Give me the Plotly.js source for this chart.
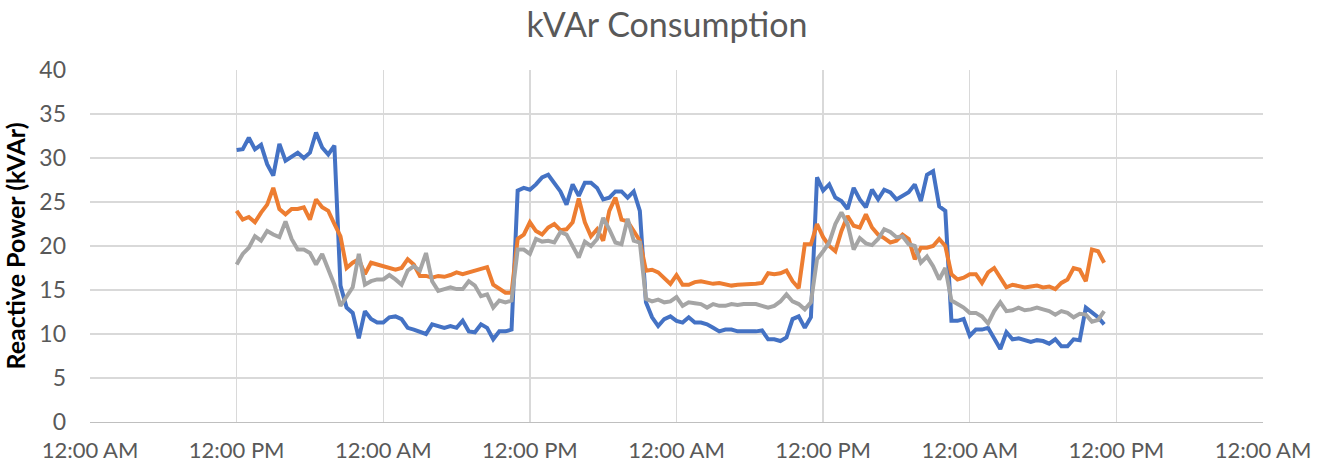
<!DOCTYPE html>
<html>
<head>
<meta charset="utf-8">
<script src="https://cdn.plot.ly/plotly-3.0.1.min.js"></script>
<style>html,body{margin:0;padding:0;background:#fff;}#chart{width:1319px;height:464px;}</style>
</head>
<body>
<div id="chart"></div>
<script>
// Hours elapsed since the first midnight shown on the axis (30-minute readings)
const hours = [
  12,12.5,13,13.5,14,14.5,15,15.5,16,16.5,17,17.5,18,18.5,19,19.5,20,20.5,21,21.5,22,22.5,23,23.5,
  24,24.5,25,25.5,26,26.5,27,27.5,28,28.5,29,29.5,30,30.5,31,31.5,32,32.5,33,33.5,34,34.5,35,35.5,
  36,36.5,37,37.5,38,38.5,39,39.5,40,40.5,41,41.5,42,42.5,43,43.5,44,44.5,45,45.5,46,46.5,47,47.5,
  48,48.5,49,49.5,50,50.5,51,51.5,52,52.5,53,53.5,54,54.5,55,55.5,56,56.5,57,57.5,58,58.5,59,59.5,
  60,60.5,61,61.5,62,62.5,63,63.5,64,64.5,65,65.5,66,66.5,67,67.5,68,68.5,69,69.5,70,70.5,71,71.5,
  72,72.5,73,73.5,74,74.5,75,75.5,76,76.5,77,77.5,78,78.5,79,79.5,80,80.5,81,81.5,82,82.5,83
];

const seriesBlue = [
  30.9,31.0,32.3,31.0,31.5,29.3,28.0,31.6,29.7,30.2,30.6,30.0,30.6,32.9,31.2,30.4,31.4,15.5,13.0,12.4,9.5,12.6,11.7,11.3,
  11.3,11.9,12.0,11.7,10.7,10.5,10.3,10.0,11.1,10.9,10.7,10.9,10.7,11.5,10.3,10.2,11.1,10.7,9.4,10.3,10.3,10.5,26.3,26.6,
  26.4,27.0,27.8,28.1,27.2,26.2,24.7,27.0,25.7,27.2,27.2,26.6,25.3,25.5,26.2,26.2,25.5,26.2,24.0,13.6,11.9,10.9,11.7,12.0,
  11.5,11.3,11.9,11.3,11.3,11.1,10.7,10.3,10.5,10.5,10.3,10.3,10.2,10.3,10.4,9.4,9.4,9.2,9.6,11.7,12.0,10.7,11.9,27.8,
  26.3,27.0,25.5,25.1,24.2,26.6,25.3,24.4,26.4,25.3,26.4,26.1,25.3,25.7,26.1,27.0,25.1,28.1,28.5,24.5,24.0,11.5,11.5,11.7,
  9.8,10.5,10.5,10.7,9.6,8.3,10.2,9.4,9.5,9.3,9.1,9.3,9.2,8.9,9.4,8.6,8.6,9.4,9.3,13.0,12.4,11.9,11.1
];

const seriesOrange = [
  24.0,23.0,23.3,22.7,23.8,24.7,26.6,24.2,23.6,24.2,24.2,24.4,23.0,25.3,24.4,24.0,22.5,21.1,17.5,18.1,18.5,16.8,18.1,17.9,
  17.8,17.5,17.3,17.5,18.5,17.9,16.6,16.6,16.4,16.6,16.5,16.7,17.0,16.8,17.0,17.2,17.3,17.6,15.6,15.1,14.7,14.7,20.8,21.3,
  22.7,21.7,21.3,22.1,22.5,21.8,21.9,22.7,25.4,22.7,21.1,21.9,20.6,24.0,25.5,23.0,22.8,21.7,20.6,17.2,17.3,17.0,16.4,15.7,
  16.7,15.6,15.6,15.9,16.0,15.8,15.7,15.8,15.6,15.5,15.6,15.6,15.6,15.7,15.8,16.9,16.8,16.9,17.2,16.0,15.2,20.2,20.2,22.5,
  21.0,20.0,19.4,21.7,23.4,22.3,22.1,23.6,22.1,21.3,20.9,20.4,20.6,21.3,20.8,18.5,19.8,19.8,20.0,20.8,20.0,16.8,16.2,16.4,
  16.8,16.8,15.8,17.0,17.5,16.4,15.3,15.6,15.5,15.3,15.4,15.5,15.3,15.4,15.1,15.8,16.2,17.5,17.3,16.0,19.6,19.4,18.1
];

const seriesGray = [
  17.9,19.1,19.8,21.1,20.6,21.7,21.3,21.0,22.8,20.8,19.6,19.6,19.2,17.9,19.1,17.2,15.6,13.2,14.3,15.3,19.1,15.6,16.0,16.2,
  16.2,16.7,16.2,15.6,17.2,17.7,17.2,19.2,16.0,14.9,15.1,15.3,15.1,15.1,16.0,15.5,14.3,14.5,13.0,13.8,13.6,13.8,19.6,19.6,
  19.1,20.8,20.5,20.6,20.4,21.6,21.3,20.0,18.7,20.5,20.0,20.8,23.2,21.9,20.4,20.2,23.1,20.6,20.4,14.0,13.7,13.9,13.6,13.7,
  14.2,13.2,13.6,13.5,13.4,13.0,13.4,13.2,13.2,13.4,13.3,13.4,13.4,13.4,13.2,13.0,13.2,13.7,14.5,13.7,13.4,12.8,13.6,18.5,
  19.4,20.4,22.5,23.8,22.5,19.6,20.9,20.3,20.1,20.8,21.9,21.6,21.0,21.1,20.2,20.0,18.1,18.8,17.7,16.2,17.5,13.8,13.4,13.0,
  12.4,12.4,12.0,11.2,12.6,13.6,12.6,12.7,13.0,12.7,12.8,13.0,12.8,12.6,12.2,12.6,12.4,11.9,12.3,12.2,11.4,11.6,12.6
];

const axisStart = '2021-03-01 00:00:00';
const axisEnd = '2021-03-05 00:00:00';
const yTickVals = [0,5,10,15,20,25,30,35,40];

function pad(n){return (n<10?'0':'')+n;}
function toStamp(h){
  const base = Date.UTC(2021,2,1,0,0,0);
  const d = new Date(base + h*3600000);
  return d.getUTCFullYear()+'-'+pad(d.getUTCMonth()+1)+'-'+pad(d.getUTCDate())+' '+pad(d.getUTCHours())+':'+pad(d.getUTCMinutes())+':00';
}
const times = hours.map(toStamp);

const FONT = 'Lato, "Open Sans", sans-serif';
function mk(y, color){
  return {x: times, y: y, type:'scatter', mode:'lines', line:{color:color, width:4}, hoverinfo:'skip'};
}
const data = [mk(seriesBlue,'#4472C4'), mk(seriesOrange,'#ED7D31'), mk(seriesGray,'#A5A5A5')];

const layout = {
  width:1319, height:464,
  margin:{l:90, r:56, t:70, b:42},
  paper_bgcolor:'#ffffff', plot_bgcolor:'#ffffff',
  showlegend:false,
  title:{text:'kVAr Consumption', x:0.5057, xanchor:'center', y:0.945, yanchor:'middle',
         font:{family:FONT, size:34, color:'#595959'}},
  xaxis:{type:'date', range:[axisStart, axisEnd], dtick:43200000, tick0:axisStart,
         tickformat:'%I:%M %p', showgrid:true, gridcolor:'#d9d9d9', gridwidth:1.3,
         showline:true, linecolor:'#bfbfbf', linewidth:1.3, mirror:false,
         ticks:'', zeroline:false, ticklabelstandoff:8,
         tickfont:{family:FONT, size:22, color:'#595959'}},
  yaxis:{range:[0,40], tickvals:yTickVals, showgrid:true, gridcolor:'#d9d9d9', gridwidth:1.3,
         zeroline:false, showline:false, ticks:'', ticklabelstandoff:23,
         tickfont:{family:FONT, size:23, color:'#595959'},
         title:{text:'Reactive Power (kVAr)', standoff:8, font:{family:FONT, size:25, color:'#000000', weight:'bold'}}}
};

Plotly.newPlot('chart', data, layout, {staticPlot:true, displayModeBar:false});
</script>
</body>
</html>
